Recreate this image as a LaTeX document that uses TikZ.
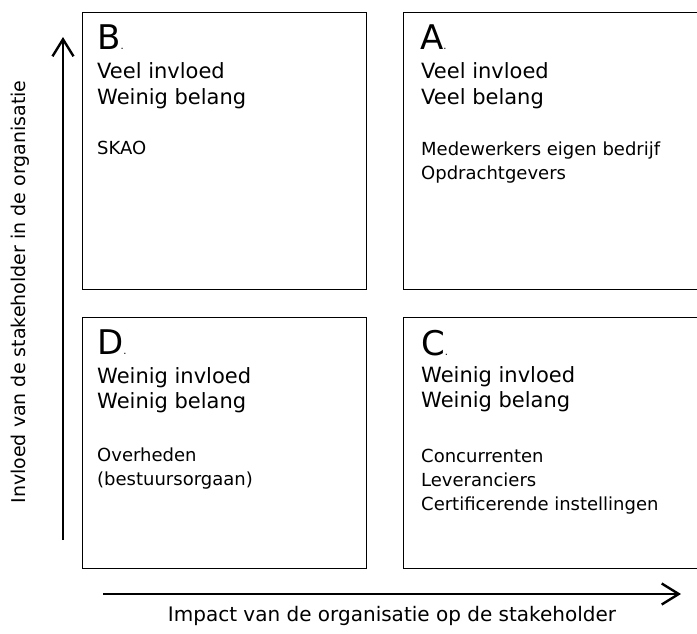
\documentclass[tikz,border=0pt]{standalone}
\usepackage{fontspec}
\setmainfont{DejaVu Sans}
\usetikzlibrary{arrows.meta}
\tikzset{
    quad/.style={draw=black, line width=1pt},
    axis/.style={line width=2.8pt, -{Straight Barb[length=17pt,width=21pt,line width=2.4pt]}},
    letter/.style={anchor=base west, inner sep=0pt, font=\fontsize{34}{34}\selectfont},
    kind/.style={anchor=base west, inner sep=0pt, font=\fontsize{21}{26}\selectfont},
    who/.style={anchor=base west, inner sep=0pt, font=\fontsize{18}{24}\selectfont},
    axislabel/.style={inner sep=0pt},
}
\newcommand{\kdot}{{\fontsize{10}{10}\selectfont.}}

\begin{document}
\begin{tikzpicture}[x=1pt,y=-1pt]
\clip (0,0) rectangle (697,633);
%\draw[step=50,lightgray,very thin] (0,0) grid (697,633);
\draw[quad] (82,12) rectangle (366,289);
\draw[quad] (403,12) rectangle (720,289);
\draw[quad] (82,317) rectangle (366,568);
\draw[quad] (403,317) rectangle (720,568);

\node[letter] (lB) at (97,49) {B\kdot};
\node[kind] (kB1) at (97,78) {Veel invloed};
\node[kind] (kB2) at (97,104) {Weinig belang};
\node[who] (wB1) at (97,154) {SKAO};

\node[letter] (lA) at (420,49) {A\kdot};
\node[kind] (kA1) at (421,78) {Veel invloed};
\node[kind] (kA2) at (421,104) {Veel belang};
\node[who] (wA1) at (421,155) {Medewerkers eigen bedrijf};
\node[who] (wA2) at (421,179) {Opdrachtgevers};

\node[letter] (lD) at (97,354) {D\kdot};
\node[kind] (kD1) at (97,383) {Weinig invloed};
\node[kind] (kD2) at (97,408) {Weinig belang};
\node[who] (wD1) at (97,461) {Overheden};
\node[who] (wD2) at (97,485) {(bestuursorgaan)};

\node[letter] (lC) at (421,355) {C\kdot};
\node[kind] (kC1) at (421,382) {Weinig invloed};
\node[kind] (kC2) at (421,407) {Weinig belang};
\node[who] (wC1) at (421,462) {Concurrenten};
\node[who] (wC2) at (421,486) {Leveranciers};
\node[who] (wC3) at (421,510) {Certificerende instellingen};

\coordinate (ylo) at (63,540);
\coordinate (yhi) at (63,37);
\coordinate (xlo) at (103,594);
\coordinate (xhi) at (681,594);
\draw[axis] (ylo) -- (yhi);
\draw[axis] (xlo) -- (xhi);
\node[axislabel, rotate=90, font=\fontsize{19}{19}\selectfont] (ylab) at (20,292) {Invloed van de stakeholder in de organisatie};
\node[axislabel, font=\fontsize{20}{20}\selectfont] (xlab) at (392,616) {Impact van de organisatie op de stakeholder};
\end{tikzpicture}
\end{document}
